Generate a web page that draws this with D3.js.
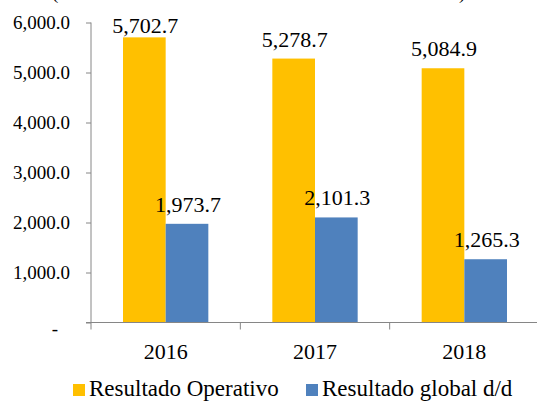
<!DOCTYPE html>
<html>
<head>
<meta charset="utf-8">
<script src="https://cdn.jsdelivr.net/npm/d3@7"></script>
<style>
  body { margin: 0; background: #fff; }
</style>
</head>
<body>
<div class="container"></div>
<script>
let years = ["2016", "2017", "2018"]
let seriesNames = ["Resultado Operativo", "Resultado global d/d"]
let operativo = [5702.7, 5278.7, 5084.9]
let globalDD = [1973.7, 2101.3, 1265.3]
let yTicks = [0, 1000, 2000, 3000, 4000, 5000, 6000]
let colors = ["#FFC000", "#4F81BD"]

let chart = d3.select(".container")

function getChart(){

    const width = 537;
    const height = 401;
    const axisColor = "#868686";
    const serif = "'Liberation Serif'";

    const svg = chart.append("svg")
                     .attr("width", width)
                     .attr("height", height)

    // the cut-off subtitle above the plot, only the parens show
    svg.append("text").attr("x", 52).attr("y", -1).text("(")
    svg.append("text").attr("x", 459).attr("y", -1).text(")")

    const y = d3.scaleLinear()
                .domain([0, 6000])
                .range([322.5, 22.5])

    const x0 = d3.scaleBand()
                 .domain(years)
                 .range([91, 539])
                 .padding(0)

    // gap width 150% of a bar, like the spreadsheet
    const barW = x0.bandwidth() / 3.5
    const x1 = d3.scaleBand()
                 .domain(seriesNames)
                 .range([barW * 0.75, x0.bandwidth() - barW * 0.75])

    const rows = years.map((yr, i) => [
        {year: yr, name: seriesNames[0], value: operativo[i], color: colors[0]},
        {year: yr, name: seriesNames[1], value: globalDD[i], color: colors[1]}
    ]).flat()

    svg.selectAll("rect.bar")
        .data(rows)
        .enter()
        .append("rect")
        .attr("class", "bar")
        .attr("x", d => x0(d.year) + x1(d.name))
        .attr("y", d => y(d.value))
        .attr("width", x1.bandwidth())
        .attr("height", d => y(0) - y(d.value))
        .attr("fill", d => d.color)

    // y axis
    const yAxis = svg.append("g")
        .attr("id", "y-axis")
        .attr("transform", "translate(91,0)")
        .call(d3.axisLeft(y)
                .tickValues(yTicks)
                .tickSize(5)
                .tickPadding(16)
                .tickFormat(d => d === 0 ? "-" : d3.format(",.1f")(d)))

    yAxis.select(".domain").remove()
    yAxis.selectAll(".tick line").attr("stroke", axisColor)
    yAxis.selectAll(".tick text")
         .attr("class", "t19")
         .attr("dy", "0.33em")
    yAxis.selectAll(".tick").filter(d => d === 0).select("text")
         .attr("x", -33)
         .attr("dy", "0.65em")

    svg.append("line")
       .attr("x1", 91).attr("x2", 91)
       .attr("y1", y(6000)).attr("y2", y(0))
       .attr("stroke", axisColor)

    // x axis
    const xAxis = svg.append("g")
        .attr("id", "x-axis")
        .attr("transform", `translate(0,${y(0)})`)
        .call(d3.axisBottom(x0).tickSize(0))

    xAxis.select(".domain").remove()
    xAxis.selectAll(".tick text")
         .attr("class", "t22")
         .attr("y", 36.5)
         .attr("dy", null)

    svg.append("line")
       .attr("x1", 86).attr("x2", width)
       .attr("y1", y(0)).attr("y2", y(0))
       .attr("stroke", axisColor)

    svg.selectAll("line.sep")
       .data(years)
       .enter()
       .append("line")
       .attr("class", "sep")
       .attr("x1", d => x0(d)).attr("x2", d => x0(d))
       .attr("y1", y(0)).attr("y2", y(0) + 7)
       .attr("stroke", axisColor)

    // value labels
    svg.selectAll("text.val")
        .data(rows)
        .enter()
        .append("text")
        .attr("class", "val t22")
        .attr("x", d => x0(d.year) + x1(d.name) + x1.bandwidth() / 2 + 1)
        .attr("y", d => Math.max(y(d.value) - 12, 33))
        .attr("text-anchor", "middle")
        .text(d => d3.format(",.1f")(d.value))

    // legend
    const legendX = [73, 306]
    const legend = svg.selectAll("g.legend")
        .data(seriesNames)
        .enter()
        .append("g")
        .attr("class", "legend")
        .attr("transform", (d, i) => `translate(${legendX[i]},384)`)

    legend.append("rect")
          .attr("width", 12)
          .attr("height", 12)
          .attr("fill", (d, i) => colors[i])

    legend.append("text")
          .attr("class", "t23")
          .attr("x", 16)
          .attr("y", 12)
          .text(d => d)

    // inline font styles on every text
    svg.selectAll("text")
       .style("font-family", serif)
       .style("fill", "#000")
       .style("font-size", function() {
           const c = this.getAttribute("class") || ""
           if (c.includes("t23")) return "23px"
           if (c.includes("t22")) return "22px"
           return "19px"
       })
}

getChart()
</script>
</body>
</html>
